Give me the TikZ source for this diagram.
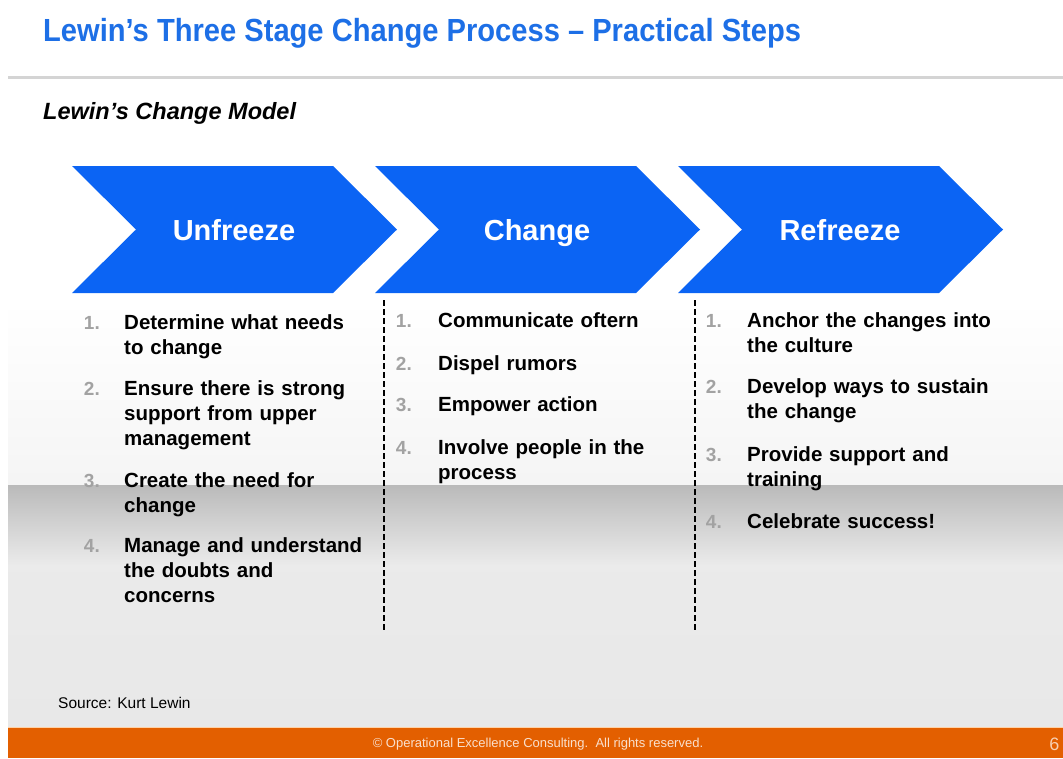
\documentclass[tikz,border=0pt]{standalone}
\usepackage{fontspec}
\setmainfont{Liberation Sans}
\newfontfamily\titlefont{Liberation Sans}[FakeStretch=0.91]
\definecolor{chevblue}{HTML}{0B64F4}
\definecolor{titleblue}{HTML}{1D6FE6}
\definecolor{footorange}{HTML}{E35F00}
\definecolor{numgray}{HTML}{A2A2A2}
\tikzset{
	chev/.style={fill=chevblue},
	chevlabel/.style={anchor=base, text=white, font=\fontsize{29}{32}\selectfont\bfseries},
	itemtext/.style={anchor=base west, text width=260pt, align=left, inner sep=0pt, font=\fontsize{20.5}{25}\selectfont\bfseries},
	itemnum/.style={anchor=base east, inner sep=0pt, text=numgray, font=\fontsize{19}{25}\selectfont\bfseries},
	divider/.style={dash pattern=on 6pt off 3pt, line width=1.3pt}
}
\begin{document}
\begin{tikzpicture}[x=1pt,y=-1pt]
	\useasboundingbox (0,0) rectangle (1063,758);
	% background bands
	\shade[top color=white, bottom color=black!4] (8,300) rectangle (1063,485);
	\shade[top color=black!27, bottom color=black!8] (8,485) rectangle (1063,565);
	\shade[top color=black!8, bottom color=black!9] (8,565) rectangle (1063,727);
	\draw[black!17, line width=3pt] (8,77) -- (1063,77);
	\node[anchor=base west, inner sep=0pt, text=titleblue, font=\titlefont\bfseries\fontsize{32}{36}\selectfont] (title) at (43,41) {Lewin’s Three Stage Change Process – Practical Steps};
	\node[anchor=base west, inner sep=0pt, font=\fontsize{23.5}{26}\selectfont\bfseries\itshape] (subtitle) at (43,119) {Lewin’s Change Model};
	% chevrons
	\foreach \x/\nm/\lbl in {72/unfreeze/Unfreeze, 375/change/Change, 678/refreeze/Refreeze}{
		\fill[chev] (\x,166) -- ++(261,0) -- ++(64,63.5) -- ++(-64,63.5) -- ++(-261,0) -- ++(64,-63.5) -- cycle;
		\node[chevlabel] (\nm) at (\x+162,240) {\lbl};
	}
	% steps
	\foreach \n/\yy/\txt in {1/329/{Determine what needs\\to change}, 2/395/{Ensure there is strong\\support from upper\\management}, 3/487/{Create the need for\\change}, 4/552/{Manage and understand\\the doubts and\\concerns}}{
		\node[itemnum] (un\n) at (100,\yy) {\n.};
		\node[itemtext] (ut\n) at (124,\yy) {\txt};
	}
	\foreach \n/\yy/\txt in {1/327/{Communicate oftern}, 2/370/{Dispel rumors}, 3/411/{Empower action}, 4/454/{Involve people in the\\process}}{
		\node[itemnum] (cn\n) at (412,\yy) {\n.};
		\node[itemtext] (ct\n) at (438,\yy) {\txt};
	}
	\foreach \n/\yy/\txt in {1/327/{Anchor the changes into\\the culture}, 2/393/{Develop ways to sustain\\the change}, 3/461/{Provide support and\\training}, 4/528/{Celebrate success!}}{
		\node[itemnum] (rn\n) at (722,\yy) {\n.};
		\node[itemtext] (rt\n) at (747,\yy) {\txt};
	}
	\coordinate (dA1) at (384,300);
	\coordinate (dA2) at (384,632);
	\coordinate (dB1) at (695,300);
	\coordinate (dB2) at (695,632);
	\draw[divider] (dA1) -- (dA2);
	\draw[divider] (dB1) -- (dB2);
	\node[anchor=base west, inner sep=0pt, font=\fontsize{15.5}{17}\selectfont] (source) at (58,708) {Source: Kurt Lewin};
	% footer
	\fill[footorange] (8,727) rectangle (1063,758);
	\draw[orange!35, line width=1pt] (8,727) -- (1063,727);
	\node[text=footorange!20, font=\fontsize{13}{14}\selectfont] (copyright) at (538,744) {\textcopyright{} Operational Excellence Consulting.~~All rights reserved.};
	\node[anchor=east, text=footorange!30, font=\fontsize{18}{20}\selectfont] (pagenum) at (1063,744) {6};
\end{tikzpicture}
\end{document}
